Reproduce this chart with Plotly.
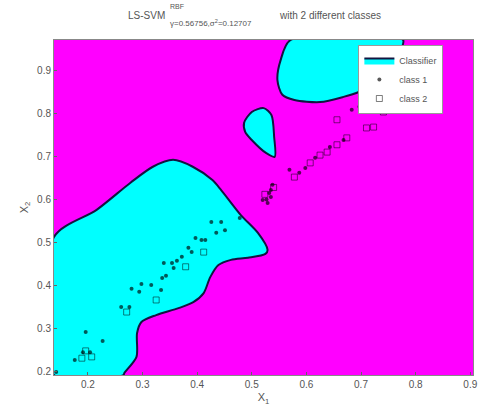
import plotly.graph_objects as go

# Decision regions (class-1 / cyan areas), data coords
region_a_x = [0.138, 0.138, 0.216, 0.278, 0.319, 0.356, 0.392, 0.428, 0.444, 0.480, 0.511, 0.529, 0.525,
              0.493, 0.462, 0.439, 0.424, 0.412, 0.393, 0.366, 0.325, 0.298, 0.290, 0.289, 0.267, 0.265, 0.138]
region_a_y = [0.193, 0.513, 0.576, 0.639, 0.676, 0.692, 0.676, 0.645, 0.622, 0.564, 0.523, 0.483, 0.474,
              0.465, 0.460, 0.448, 0.420, 0.383, 0.362, 0.348, 0.332, 0.316, 0.290, 0.235, 0.198, 0.193, 0.193]

region_b_x = [0.571, 0.553, 0.547, 0.556, 0.578, 0.625, 0.668, 0.697, 0.737, 0.764, 0.773, 0.777, 0.571]
region_b_y = [0.970, 0.924, 0.877, 0.843, 0.831, 0.826, 0.838, 0.850, 0.877, 0.912, 0.947, 0.970, 0.970]

region_c_x = [0.486, 0.500, 0.522, 0.536, 0.541, 0.542, 0.526, 0.500, 0.488, 0.486]
region_c_y = [0.778, 0.803, 0.812, 0.796, 0.745, 0.699, 0.708, 0.738, 0.757, 0.778]

# class 1 samples
c1_x = [0.142, 0.176, 0.191, 0.204, 0.196, 0.227, 0.261, 0.276, 0.280, 0.298, 0.294, 0.316, 0.334, 0.336,
        0.343, 0.339, 0.357, 0.363, 0.354, 0.372, 0.384, 0.390, 0.397, 0.408, 0.415, 0.426, 0.435, 0.444,
        0.451, 0.478, 0.520, 0.527, 0.529, 0.532, 0.535, 0.535, 0.538, 0.569, 0.587, 0.598, 0.616,
        0.643, 0.668, 0.683, 0.697]
c1_y = [0.200, 0.228, 0.246, 0.246, 0.293, 0.272, 0.351, 0.351, 0.393, 0.404, 0.386, 0.402, 0.390, 0.418,
        0.423, 0.453, 0.441, 0.458, 0.453, 0.467, 0.488, 0.478, 0.511, 0.506, 0.506, 0.548, 0.523, 0.548,
        0.529, 0.557, 0.599, 0.600, 0.592, 0.615, 0.606, 0.622, 0.634, 0.669, 0.662, 0.673, 0.697,
        0.722, 0.738, 0.808, 0.815]

# class 2 samples
c2_x = [0.189, 0.196, 0.207, 0.271, 0.325, 0.379, 0.412, 0.524, 0.540, 0.578, 0.607, 0.625, 0.638,
        0.656, 0.674, 0.656, 0.710, 0.723, 0.741, 0.746]
c2_y = [0.232, 0.249, 0.235, 0.339, 0.367, 0.444, 0.478, 0.612, 0.628, 0.652, 0.685, 0.703, 0.710,
        0.727, 0.743, 0.785, 0.766, 0.768, 0.803, 0.808]

x_ticks = [0.2, 0.3, 0.4, 0.5, 0.6, 0.7, 0.8, 0.9]
y_ticks = [0.2, 0.3, 0.4, 0.5, 0.6, 0.7, 0.8, 0.9]

CYAN = "#00FFFF"
MAG = "#FF00FF"
EDGE = "#141440"

fig = go.Figure()
for i, (rx, ry) in enumerate([(region_a_x, region_a_y), (region_b_x, region_b_y), (region_c_x, region_c_y)]):
    fig.add_trace(go.Scatter(x=rx, y=ry, mode="lines", fill="toself", fillcolor=CYAN,
                             line=dict(color=EDGE, width=2, shape="spline", smoothing=0.8),
                             name="Classifier", showlegend=(i == 0), hoverinfo="skip"))

fig.add_trace(go.Scatter(x=c1_x, y=c1_y, mode="markers", name="class 1",
                         marker=dict(symbol="circle", size=4, color="rgba(0,0,0,0.65)",
                                     line=dict(width=0))))
fig.add_trace(go.Scatter(x=c2_x, y=c2_y, mode="markers", name="class 2",
                         marker=dict(symbol="square-open", size=6, color="rgba(0,0,0,0.5)",
                                     line=dict(width=1))))

T = "#555555"
ann = [
    dict(text="LS-SVM", x=168, y=15, xanchor="right", size=10),
    dict(text="RBF", x=169, y=6, xanchor="left", size=7),
    dict(text="γ=0.56756,σ<sup>2</sup>=0.12707", x=169, y=23, xanchor="left", size=8),
    dict(text="with 2 different classes", x=280, y=15, xanchor="left", size=10),
]
L, R, TOP, BOT = 54, 478, 40, 375
annotations = []
for a in ann:
    annotations.append(dict(text=a["text"], xref="paper", yref="paper",
                            x=(a["x"] - L) / (R - L), y=(BOT - a["y"]) / (BOT - TOP),
                            xanchor=a["xanchor"], yanchor="middle", showarrow=False,
                            font=dict(family="Arial, Liberation Sans", size=a["size"], color=T)))

fig.update_layout(
    width=488, height=414,
    margin=dict(l=L, r=488 - R, t=TOP, b=414 - BOT),
    paper_bgcolor="white", plot_bgcolor=MAG,
    annotations=annotations,
    font=dict(family="Arial, Liberation Sans", size=10, color=T),
    legend=dict(x=(362 - L) / (R - L), y=(BOT - 45) / (BOT - TOP), xanchor="left", yanchor="top",
                bgcolor="white", bordercolor="#999999", borderwidth=1,
                font=dict(size=9, color=T), itemwidth=30, tracegroupgap=0),
    showlegend=True,
)
fig.update_xaxes(range=[0.138, 0.905], tickvals=x_ticks, ticktext=[str(v) for v in x_ticks],
                 showgrid=False, zeroline=False, ticks="inside", ticklen=3, tickcolor="#666",
                 showline=True, linecolor="#888", mirror=True,
                 title=dict(text="X<sub>1</sub>", standoff=4, font=dict(size=11, color=T)))
fig.update_yaxes(range=[0.193, 0.97], tickvals=y_ticks, ticktext=[str(v) for v in y_ticks],
                 showgrid=False, zeroline=False, ticks="inside", ticklen=3, tickcolor="#666",
                 showline=True, linecolor="#888", mirror=True,
                 title=dict(text="X<sub>2</sub>", standoff=6, font=dict(size=11, color=T)))

fig.write_html("out.html")
